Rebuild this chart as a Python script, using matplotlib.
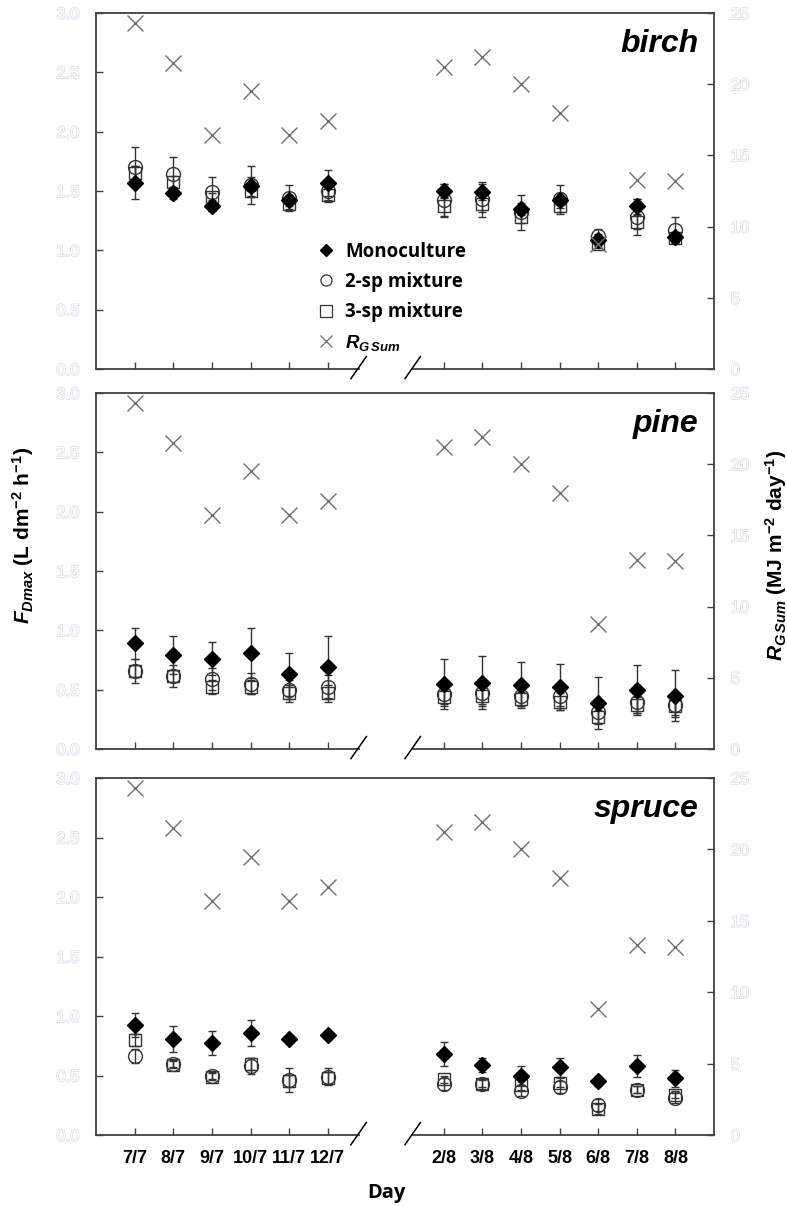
import numpy as np
import matplotlib
matplotlib.use('Agg')
import matplotlib.pyplot as plt
import matplotlib.patheffects as pe
import matplotlib.transforms as mtransforms

plt.rcParams['font.family'] = ['Liberation Sans', 'DejaVu Sans']
plt.rcParams['mathtext.fontset'] = 'custom'
plt.rcParams['mathtext.rm'] = 'Liberation Sans:bold'
plt.rcParams['mathtext.it'] = 'Liberation Sans:bold:italic'
plt.rcParams['mathtext.bf'] = 'Liberation Sans:bold'

days = ['7/7', '8/7', '9/7', '10/7', '11/7', '12/7', '2/8', '3/8', '4/8', '5/8', '6/8', '7/8', '8/8']
xpos = [1, 2, 3, 4, 5, 6, 9, 10, 11, 12, 13, 14, 15]

rg_sum = [24.3, 21.5, 16.4, 19.5, 16.4, 17.4, 21.2, 21.9, 20.0, 18.0, 8.8, 13.3, 13.2]

birch_mono = [1.57, 1.48, 1.37, 1.54, 1.42, 1.57, 1.50, 1.49, 1.35, 1.42, 1.09, 1.37, 1.11]
birch_mono_se = [0.14, 0.05, 0.04, 0.08, 0.05, 0.11, 0.06, 0.07, 0.05, 0.06, 0.05, 0.06, 0.04]
birch_2sp = [1.70, 1.64, 1.49, 1.55, 1.44, 1.50, 1.42, 1.43, 1.32, 1.43, 1.12, 1.28, 1.17]
birch_2sp_se = [0.17, 0.15, 0.13, 0.16, 0.11, 0.08, 0.14, 0.15, 0.15, 0.12, 0.06, 0.15, 0.11]
birch_3sp = [1.65, 1.58, 1.45, 1.50, 1.39, 1.47, 1.37, 1.39, 1.28, 1.37, 1.05, 1.24, 1.10]
birch_3sp_se = [0.06, 0.05, 0.03, 0.05, 0.04, 0.06, 0.08, 0.07, 0.05, 0.05, 0.03, 0.06, 0.03]

pine_mono = [0.89, 0.79, 0.76, 0.81, 0.63, 0.69, 0.55, 0.56, 0.54, 0.525, 0.39, 0.50, 0.45]
pine_mono_se = [0.13, 0.16, 0.14, 0.21, 0.18, 0.26, 0.21, 0.22, 0.195, 0.195, 0.22, 0.21, 0.215]
pine_2sp = [0.66, 0.615, 0.59, 0.55, 0.50, 0.52, 0.46, 0.47, 0.45, 0.45, 0.31, 0.40, 0.37]
pine_2sp_se = [0.10, 0.09, 0.09, 0.09, 0.08, 0.10, 0.10, 0.11, 0.09, 0.09, 0.09, 0.10, 0.10]
pine_3sp = [0.66, 0.615, 0.525, 0.52, 0.47, 0.47, 0.44, 0.45, 0.42, 0.40, 0.27, 0.37, 0.36]
pine_3sp_se = [0.05, 0.05, 0.06, 0.06, 0.07, 0.07, 0.06, 0.07, 0.06, 0.07, 0.06, 0.07, 0.07]

spruce_mono = [0.925, 0.81, 0.77, 0.86, 0.81, 0.84, 0.68, 0.59, 0.50, 0.57, 0.455, 0.58, 0.475]
spruce_mono_se = [0.10, 0.11, 0.10, 0.11, 0.01, 0.02, 0.10, 0.06, 0.08, 0.08, 0.04, 0.09, 0.07]
spruce_2sp = [0.665, 0.60, 0.50, 0.58, 0.46, 0.49, 0.43, 0.43, 0.37, 0.40, 0.25, 0.38, 0.31]
spruce_2sp_se = [0.06, 0.03, 0.03, 0.07, 0.10, 0.07, 0.05, 0.03, 0.04, 0.05, 0.05, 0.03, 0.04]
spruce_3sp = [0.80, 0.59, 0.49, 0.60, 0.455, 0.48, 0.47, 0.43, 0.42, 0.44, 0.22, 0.38, 0.34]
spruce_3sp_se = [0.05, 0.03, 0.03, 0.05, 0.05, 0.05, 0.03, 0.04, 0.04, 0.04, 0.04, 0.03, 0.03]

species = ['birch', 'pine', 'spruce']
mono = [birch_mono, pine_mono, spruce_mono]
mono_se = [birch_mono_se, pine_mono_se, spruce_mono_se]
sp2 = [birch_2sp, pine_2sp, spruce_2sp]
sp2_se = [birch_2sp_se, pine_2sp_se, spruce_2sp_se]
sp3 = [birch_3sp, pine_3sp, spruce_3sp]
sp3_se = [birch_3sp_se, pine_3sp_se, spruce_3sp_se]

W, H = 787, 1206
fig = plt.figure(figsize=(W / 100, H / 100), dpi=100)

# axes boxes in pixels (top, bottom)
boxes = [(13, 369), (393, 749), (778, 1135)]
left_px, right_px = 96, 714
spine_col = '#404040'
hollow = [pe.withStroke(linewidth=1.0, foreground='#d3dbe6')]

for i, (top, bot) in enumerate(boxes):
    ax = fig.add_axes([left_px / W, 1 - bot / H, (right_px - left_px) / W, (bot - top) / H])
    ax2 = ax.twinx()

    ax.errorbar(xpos, sp3[i], yerr=sp3_se[i], fmt='s', ms=9, mfc='none', mec='#333333',
                mew=1.0, ecolor='#333333', elinewidth=1.0, capsize=3, zorder=3)
    ax.errorbar(xpos, sp2[i], yerr=sp2_se[i], fmt='o', ms=10, mfc='none', mec='#333333',
                mew=1.0, ecolor='#333333', elinewidth=1.0, capsize=3, zorder=4)
    ax.errorbar(xpos, mono[i], yerr=mono_se[i], fmt='D', ms=8, mfc='black', mec='black',
                ecolor='#333333', elinewidth=1.0, capsize=3, zorder=5)
    ax2.plot(xpos, rg_sum, 'x', ms=11, mew=1.0, color='#6e6e6e', zorder=2)

    ax.set_xlim(0, 16)
    ax.set_ylim(0, 3)
    ax2.set_ylim(0, 25)
    ax.set_yticks(np.arange(0, 3.01, 0.5))
    ax.set_yticklabels(['%.1f' % v for v in np.arange(0, 3.01, 0.5)])
    ax2.set_yticks(np.arange(0, 26, 5))

    ax.tick_params(axis='y', direction='in', length=5, width=1, color=spine_col,
                   labelsize=12, labelcolor='white', pad=12)
    ax2.tick_params(axis='y', direction='in', length=5, width=1, color=spine_col,
                    labelsize=12, labelcolor='white', pad=12)
    for t in ax.get_yticklabels() + ax2.get_yticklabels():
        t.set_path_effects(hollow)

    ax.set_xticks(xpos)
    ax.tick_params(axis='x', direction='in', length=5, width=1, color=spine_col, pad=11)
    if i == 2:
        ax.set_xticklabels(days, fontsize=13, fontweight='bold')
    else:
        ax.set_xticklabels([])

    for a in (ax, ax2):
        a.spines['bottom'].set_visible(False)
        for s in a.spines.values():
            s.set_color(spine_col)
            s.set_linewidth(1.3)
    ax.spines['right'].set_visible(False)
    ax2.spines['left'].set_visible(False)
    ax2.spines['top'].set_visible(False)

    # broken bottom axis
    trans = mtransforms.blended_transform_factory(ax.transData, ax.transAxes)
    ax.plot([0, 6.8], [0, 0], color=spine_col, lw=1.3, transform=trans, clip_on=False)
    ax.plot([8.2, 16], [0, 0], color=spine_col, lw=1.3, transform=trans, clip_on=False)
    for xb in (6.8, 8.2):
        ax.plot([xb - 0.2, xb + 0.2], [-0.027, 0.035], color='black', lw=1.1,
                transform=trans, clip_on=False)

    ax.text(0.975, 0.955, species[i], transform=ax.transAxes, ha='right', va='top',
            fontsize=23, fontweight='bold', fontstyle='italic')

    if i == 0:
        h1 = ax.plot([], [], 'D', ms=6, color='black')[0]
        h2 = ax.plot([], [], 'o', ms=8, mfc='none', mec='#333333', mew=0.9)[0]
        h3 = ax.plot([], [], 's', ms=8, mfc='none', mec='#333333', mew=0.9)[0]
        h4 = ax.plot([], [], 'x', ms=9, mew=0.9, color='#6e6e6e')[0]
        ax.legend([h1, h2, h3, h4],
                  ['Monoculture', '2-sp mixture', '3-sp mixture', r'$R_{G\,Sum}$'],
                  loc='upper left', bbox_to_anchor=(0.33, 0.405), frameon=False,
                  prop={'family': 'Open Sans', 'weight': 'bold', 'size': 13.5},
                  handletextpad=0.5, labelspacing=0.55, handlelength=1.0)

fig.text(23 / W, 1 - 535 / H, r'$F_{Dmax}$' + ' (L dm$^{\\mathregular{-2}}$ h$^{\\mathregular{-1}}$)',
         rotation=90, ha='center', va='center', fontsize=15, fontweight='bold')
fig.text(776 / W, 1 - 555 / H, r'$R_{G\,Sum}$' + ' (MJ m$^{\\mathregular{-2}}$ day$^{\\mathregular{-1}}$)',
         rotation=90, ha='center', va='center', fontsize=15, fontweight='bold')
fig.text(386 / W, 1 - 1193 / H, 'Day', ha='center', va='center', fontsize=14.5,
         fontweight='bold', family='Open Sans')

fig.savefig('out.png', dpi=100)
